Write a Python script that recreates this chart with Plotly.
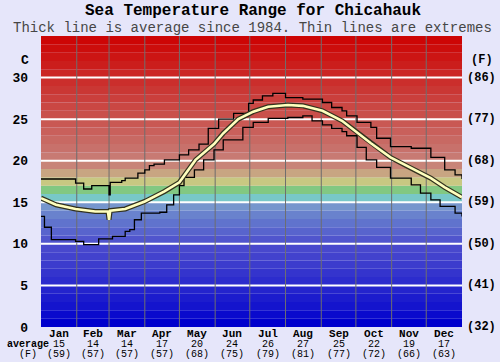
import plotly.graph_objects as go

# ---------------- data ----------------
months = ["Jan", "Feb", "Mar", "Apr", "May", "Jun", "Jul", "Aug", "Sep", "Oct", "Nov", "Dec"]
month_days = [31, 28, 31, 30, 31, 30, 31, 31, 30, 31, 30, 31]
month_avg_c = ["15", "14", "14", "17", "20", "24", "26", "27", "25", "22", "19", "17"]
month_avg_f = ["(59)", "(57)", "(57)", "(57)", "(68)", "(75)", "(79)", "(81)", "(77)", "(72)", "(66)", "(63)"]

c_ticks = [0, 5, 10, 15, 20, 25, 30]
f_ticks = ["(32)", "(41)", "(50)", "(59)", "(68)", "(77)", "(86)"]

# maximum (thin line, stepped)
max_day = [0, 30, 37, 44, 59, 60, 70, 73, 84, 90, 94, 98, 107, 120, 128, 137, 145, 154, 167,
           180, 184, 192, 201, 212, 227, 244, 252, 261, 265, 274, 286, 291, 303, 321, 338,
           350, 359, 365]
max_temp = [17.8, 17.3, 16.6, 17.0, 15.9, 17.4, 17.6, 17.9, 18.5, 18.9, 19.4, 19.6, 20.1, 20.7,
            21.3, 22.0, 23.9, 25.0, 25.7, 26.9, 27.3, 27.8, 28.1, 27.6, 27.4, 27.0, 26.4,
            26.0, 25.4, 24.6, 24.0, 22.7, 21.7, 21.5, 20.4, 18.9, 18.3, 17.8]

# minimum (thin line, stepped)
min_day = [0, 3, 9, 30, 37, 50, 62, 73, 77, 81, 87, 103, 109, 115, 120, 124, 133, 141, 150,
           158, 175, 184, 197, 214, 227, 235, 244, 252, 261, 265, 274, 282, 291, 303, 321,
           329, 338, 346, 359, 365]
min_temp = [13.3, 12.0, 10.5, 10.3, 9.9, 10.6, 10.9, 11.5, 11.7, 12.9, 13.7, 13.8, 14.7, 15.9,
            17.0, 18.0, 18.9, 20.1, 21.3, 22.5, 24.0, 24.6, 25.1, 25.2, 25.4, 24.8, 24.3,
            23.9, 23.5, 23.0, 21.6, 20.1, 19.2, 17.9, 17.1, 16.1, 15.3, 14.5, 13.7, 13.3]

# average (thick line)
avg_day = [0, 13, 30, 47, 58, 59, 60, 73, 90, 107, 120, 134, 150, 158, 171, 184, 197, 214,
           227, 244, 261, 274, 286, 303, 321, 338, 350, 365]
avg_temp = [15.5, 14.7, 14.2, 13.9, 13.9, 12.9, 14.0, 14.2, 15.1, 16.3, 17.4, 20.1, 22.0, 23.3,
            25.0, 25.9, 26.5, 26.7, 26.6, 26.0, 24.8, 23.4, 22.1, 20.4, 19.1, 17.9, 16.8, 15.6]

# colour of each 1-degree band, 0..35 C
band_colors = [
    (0, 0, 205), (10, 10, 205), (20, 20, 205), (28, 28, 205), (36, 36, 205),
    (44, 44, 205), (52, 52, 205), (60, 60, 205), (66, 66, 205), (72, 72, 205),
    (80, 85, 205), (88, 100, 205), (96, 115, 205), (105, 130, 205), (118, 150, 205),
    (120, 200, 200), (130, 200, 130), (200, 200, 130), (200, 165, 130), (200, 132, 120),
]
r0, g0, b0 = (200, 122, 115)
for i in range(15):
    t = i / 14
    band_colors.append((int(r0 + (205 - r0) * t), int(g0 * (1 - t) + 5 * t), int(b0 * (1 - t) + 5 * t)))

# ---------------- figure ----------------
FONT = "Liberation Mono, Courier New, monospace"
fig = go.Figure()

shapes = []
for i, c in enumerate(band_colors):
    shapes.append(dict(type="rect", xref="x", yref="y", x0=0, x1=365, y0=i, y1=i + 1,
                       fillcolor="rgb(%d,%d,%d)" % c, line=dict(width=0), layer="below"))
for v in c_ticks[1:]:
    shapes.append(dict(type="line", xref="x", yref="y", x0=0, x1=365, y0=v, y1=v,
                       line=dict(color="white", width=2), layer="below"))
cum = 0
bounds = []
for d in month_days[:-1]:
    cum += d
    bounds.append(cum)
for b in bounds:
    shapes.append(dict(type="line", xref="x", yref="y", x0=b, x1=b, y0=0, y1=35,
                       line=dict(color="rgb(110,110,110)", width=1), layer="below"))

fig.add_trace(go.Scatter(x=max_day, y=max_temp, mode="lines", line=dict(color="black", width=1.3, shape="hv"),
                         hoverinfo="skip", showlegend=False))
fig.add_trace(go.Scatter(x=min_day, y=min_temp, mode="lines", line=dict(color="black", width=1.3, shape="hv"),
                         hoverinfo="skip", showlegend=False))
fig.add_trace(go.Scatter(x=avg_day, y=avg_temp, mode="lines", line=dict(color="rgb(50,50,30)", width=5),
                         hoverinfo="skip", showlegend=False))
fig.add_trace(go.Scatter(x=avg_day, y=avg_temp, mode="lines", line=dict(color="rgb(255,255,190)", width=2.6),
                         hoverinfo="skip", showlegend=False))

ann = []
H = 291.0
def py(p):
    return (327 - p) / H
def px(p):
    return (p - 35) / 427.0

start = 0
for m, d, ac, af in zip(months, month_days, month_avg_c, month_avg_f):
    cx = start + d / 2
    start += d
    txt = ("<span style='font-size:11px'><b>%s</b></span><br>"
           "<span style='font-size:10px'>%s</span><br>"
           "<span style='font-size:10px'>%s</span>") % (m, ac, af)
    ann.append(dict(x=cx, y=py(344), xref="x", yref="paper", text=txt, showarrow=False,
                    xanchor="center", yanchor="middle", borderpad=0,
                    font=dict(family=FONT, size=7.6, color="black")))

ann.append(dict(x=px(22), y=py(349), xref="paper", yref="paper",
                text="<span style='font-size:10px'><b>average</b></span><br>"
                     "<span style='font-size:10px'>(F)</span>",
                showarrow=False, xanchor="center", yanchor="middle", borderpad=0,
                font=dict(family=FONT, size=7.6, color="black")))

for v, f in zip(c_ticks, f_ticks):
    ann.append(dict(x=px(465), y=v, xref="paper", yref="y", text="<b>" + f + "</b>", showarrow=False,
                    xanchor="left", yanchor="middle", font=dict(family=FONT, size=12, color="black")))
ann.append(dict(x=px(482), y=py(60), xref="paper", yref="paper", text="<b>(F)</b>", showarrow=False,
                xanchor="center", yanchor="middle", font=dict(family=FONT, size=12, color="black")))
ann.append(dict(x=px(18.5), y=py(60), xref="paper", yref="paper", text="<b>C</b>", showarrow=False,
                xanchor="center", yanchor="middle", font=dict(family=FONT, size=13, color="black")))

ann.append(dict(x=px(250), y=py(11), xref="paper", yref="paper",
                text="<b>Sea Temperature Range for Chicahauk</b>", showarrow=False,
                xanchor="center", yanchor="middle", borderpad=0,
                font=dict(family=FONT, size=16, color="black")))
ann.append(dict(x=px(250), y=py(28), xref="paper", yref="paper",
                text="Thick line is average since 1984. Thin lines are extremes", showarrow=False,
                xanchor="center", yanchor="middle", borderpad=0,
                font=dict(family=FONT, size=14, color="rgb(70,70,70)")))

fig.update_layout(
    width=500, height=362,
    margin=dict(l=35, r=38, t=36, b=35),
    paper_bgcolor="rgb(230,230,250)",
    plot_bgcolor="rgb(230,230,250)",
    shapes=shapes,
    annotations=ann,
    xaxis=dict(range=[0, 365], showgrid=False, zeroline=False, showticklabels=False, ticks="",
               fixedrange=True, showline=False),
    yaxis=dict(range=[0, 35], showgrid=False, zeroline=False, tickvals=c_ticks,
               ticktext=["<b>%d</b>" % v for v in c_ticks], ticks="",
               tickfont=dict(family=FONT, size=13, color="black"), ticklabelstandoff=12,
               fixedrange=True, showline=False),
)

fig.write_html("out.html", config={"displayModeBar": False},
               post_script="document.body.style.margin='0';document.body.style.background='rgb(230,230,250)';")
